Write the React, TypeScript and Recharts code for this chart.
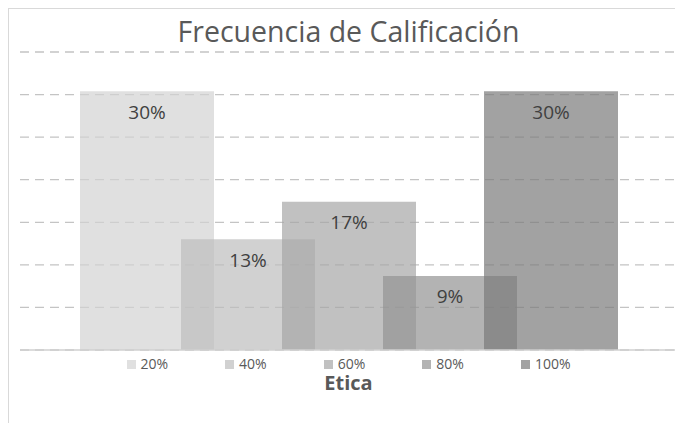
import { Bar, BarChart, CartesianGrid, LabelList, Legend, ReferenceLine, XAxis, YAxis } from 'recharts';

const categories = ['Etica'];
const seriesNames = ['20%', '40%', '60%', '80%', '100%'];
// share of students per grade (7, 3, 4, 2, 7 of 23)
const seriesValues = [0.304, 0.13, 0.174, 0.087, 0.304];
const seriesColors = ['#d3d3d3', '#bdbdbd', '#a6a6a6', '#939393', '#7a7a7a'];
const gridTicks = [0.05, 0.1, 0.15, 0.2, 0.25, 0.3, 0.35];

const FONT = '"Open Sans", "Noto Sans", sans-serif';

const data = categories.map((name) => {
  const row: Record<string, string | number> = { name };
  seriesNames.forEach((s, i) => {
    row[s] = seriesValues[i];
  });
  return row;
});

const pct = (v: unknown) => `${Math.round(Number(v) * 100)}%`;

function LegendBox() {
  return (
    <div style={{ height: 46, paddingTop: 4, fontFamily: FONT }}>
      <div
        style={{
          height: 20,
          display: 'flex',
          justifyContent: 'center',
          alignItems: 'center',
          gap: 57,
          fontSize: 14,
          lineHeight: '16px',
          color: '#595959',
        }}
      >
        {seriesNames.map((s, i) => (
          <span key={s} style={{ display: 'inline-flex', alignItems: 'center' }}>
            <span
              style={{
                width: 9,
                height: 9,
                background: seriesColors[i],
                opacity: 0.7,
                marginRight: 5,
                display: 'inline-block',
              }}
            />
            {s}
          </span>
        ))}
      </div>
      <div
        style={{
          textAlign: 'center',
          fontSize: 20,
          fontWeight: 700,
          lineHeight: '18px',
          color: '#595959',
        }}
      >
        {categories[0]}
      </div>
    </div>
  );
}

export default function App() {
  return (
    <div
      style={{
        position: 'absolute',
        left: 0,
        top: 0,
        width: 675,
        height: 423,
        overflow: 'hidden',
        background: '#fff',
      }}
    >
      {/* chart frame, cropped on the right and bottom */}
      <div
        style={{
          position: 'absolute',
          left: 8,
          top: 8,
          width: 720,
          height: 500,
          border: '1px solid #d9d9d9',
        }}
      />
      <div
        style={{
          position: 'absolute',
          left: 0,
          width: 697,
          top: 12,
          textAlign: 'center',
          fontFamily: FONT,
          fontSize: 28.5,
          color: '#595959',
          lineHeight: '38px',
        }}
      >
        Frecuencia de Calificación
      </div>
      <div style={{ position: 'absolute', left: 0, top: 0 }}>
        <BarChart
          width={690}
          height={423}
          data={data}
          margin={{ top: 52, right: 13, bottom: 23, left: 20 }}
          barSize={134}
          barGap={-33}
        >
          <CartesianGrid
            vertical={false}
            stroke='#c4c4c4'
            strokeWidth={1.3}
            strokeDasharray='9 6'
          />
          <XAxis dataKey='name' tick={false} tickLine={false} axisLine={false} height={0} />
          <YAxis hide domain={[0, 0.35]} ticks={gridTicks} />
          <Legend verticalAlign='bottom' content={<LegendBox />} />
          {seriesNames.map((s, i) => (
            <Bar
              key={s}
              dataKey={s}
              fill={seriesColors[i]}
              fillOpacity={0.7}
              isAnimationActive={false}
            >
              <LabelList
                dataKey={s}
                position='insideTop'
                offset={14}
                formatter={pct}
                fill='#404040'
                style={{ fontFamily: FONT, fontSize: 19 }}
              />
            </Bar>
          ))}
          <ReferenceLine y={0} stroke='#d0d0d0' strokeWidth={1.5} />
        </BarChart>
      </div>
    </div>
  );
}
